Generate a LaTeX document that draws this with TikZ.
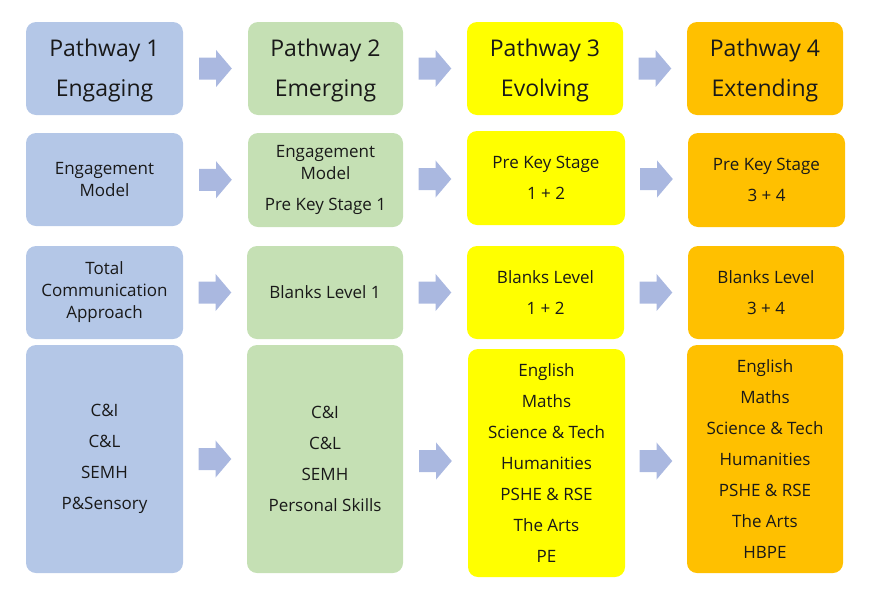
\documentclass[tikz,border=0pt]{standalone}
\usepackage{fontspec}
\setmainfont{Open Sans}
\usetikzlibrary{calc}
\definecolor{cblue}{HTML}{B4C7E7}
\definecolor{cgreen}{HTML}{C5E0B4}
\definecolor{cyellow}{HTML}{FFFF00}
\definecolor{corange}{HTML}{FFC000}
\definecolor{carrow}{HTML}{AAB8E0}
\newcommand{\hstrut}{\rule{0pt}{22pt}}
\tikzset{
  box/.style={rounded corners=10pt, inner sep=0pt, align=center, text=black!90,
    font=\fontsize{17}{22}\selectfont},
  headbox/.style={box, font=\fontsize{23}{40}\selectfont},
  listbox/.style={box, font=\fontsize{17}{31}\selectfont},
  blockarrow/.pic={\fill[carrow] (-16.5,-11) -- (0.5,-11) -- (0.5,-18.6) -- (16.3,0) -- (0.5,18.6) -- (0.5,11) -- (-16.5,11) -- cycle;}
}
\begin{document}
\begin{tikzpicture}[x=1pt,y=-1pt]
\useasboundingbox (0,0) rectangle (881,595);
% Row 1
\node[headbox, fill=cblue,   minimum width=157pt, minimum height=93pt] (a1) at (104.5,68.5) {\hstrut Pathway 1\\Engaging};
\node[headbox, fill=cgreen,  minimum width=155pt, minimum height=93pt] (a2) at (325.5,68.5) {\hstrut Pathway 2\\Emerging};
\node[headbox, fill=cyellow, minimum width=156pt, minimum height=93pt] (a3) at (545,68.5) {\hstrut Pathway 3\\Evolving};
\node[headbox, fill=corange, minimum width=156pt, minimum height=93pt] (a4) at (765,68.5) {\hstrut Pathway 4\\Extending};
% Row 2
\node[box, fill=cblue,   minimum width=157pt, minimum height=93pt] (b1) at (104.5,179.5) {Engagement\\Model};
\node[box, fill=cgreen,  minimum width=155pt, minimum height=94pt] (b2) at (325.5,180) {Engagement\\Model\\[9pt]Pre Key Stage 1};
\node[listbox, fill=cyellow, minimum width=158pt, minimum height=94pt] (b3) at (546,178) {Pre Key Stage\\1 + 2};
\node[listbox, fill=corange, minimum width=157pt, minimum height=94pt] (b4) at (766.5,180) {Pre Key Stage\\3 + 4};
% Row 3
\node[box, fill=cblue,   minimum width=157pt, minimum height=93pt] (c1) at (104.5,292.5) {Total\\Communication\\Approach};
\node[box, fill=cgreen,  minimum width=156pt, minimum height=93pt] (c2) at (325,292.5) {Blanks Level 1};
\node[listbox, fill=cyellow, minimum width=157pt, minimum height=93pt] (c3) at (545.5,292.5) {Blanks Level\\1 + 2};
\node[listbox, fill=corange, minimum width=156pt, minimum height=93pt] (c4) at (766,292.5) {Blanks Level\\3 + 4};
% Row 4
\node[listbox, fill=cblue,   minimum width=157pt, minimum height=228pt] (d1) at (104.5,459) {C\&I\\C\&L\\SEMH\\P\&Sensory};
\node[listbox, fill=cgreen,  minimum width=156pt, minimum height=228pt] (d2) at (325,459) {C\&I\\C\&L\\SEMH\\Personal Skills};
\node[listbox, fill=cyellow, minimum width=157pt, minimum height=228pt] (d3) at (546.5,463) {English\\Maths\\Science \& Tech\\Humanities\\PSHE \& RSE\\The Arts\\PE};
\node[listbox, fill=corange, minimum width=156pt, minimum height=228pt] (d4) at (765,459) {English\\Maths\\Science \& Tech\\Humanities\\PSHE \& RSE\\The Arts\\HBPE};
% Block arrows
\foreach \r in {a,b,c,d}{
  \pic at ($(\r1.east)!0.5!(\r2.west)$) {blockarrow};
  \pic at ($(\r2.east)!0.5!(\r3.west)$) {blockarrow};
  \pic at ($(\r3.east)!0.5!(\r4.west)$) {blockarrow};
}
\end{tikzpicture}
\end{document}
